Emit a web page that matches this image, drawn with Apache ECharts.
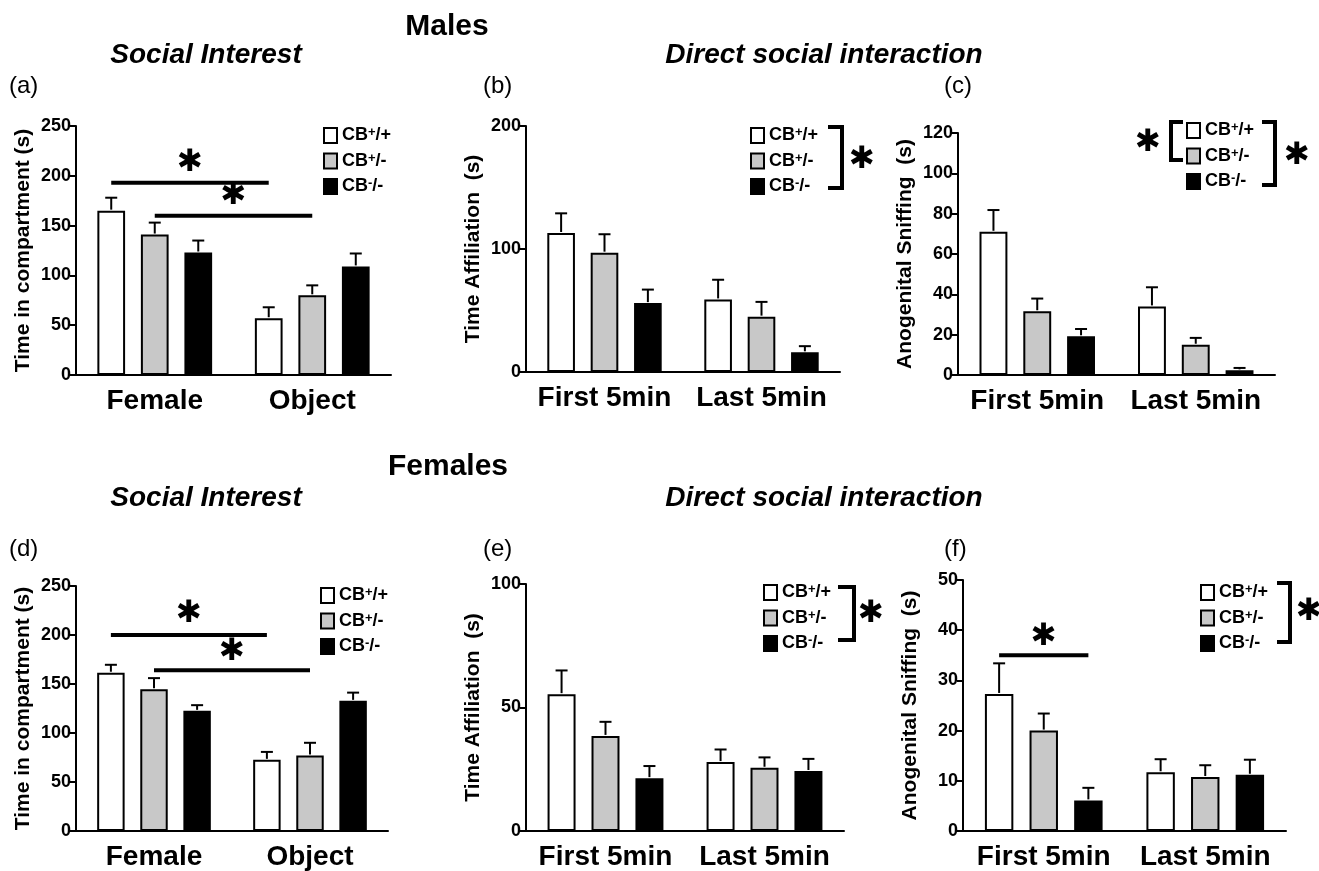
<!DOCTYPE html>
<html>
<head>
<meta charset="utf-8">
<script src="https://cdn.jsdelivr.net/npm/echarts@6/dist/echarts.min.js"></script>
<style>
html,body{margin:0;padding:0;background:#fff;}
#chart{width:1319px;height:871px;}
</style>
</head>
<body>
<div id="chart"></div>
<script>
// ---------- DATA ----------
const groups = ['CB+/+', 'CB+/-', 'CB-/-'];
const catsSocial = ['Female', 'Object'];
const catsTime = ['First 5min', 'Last 5min'];

// (a) Males – Social interest: time in compartment (s)
const aMean = [[165, 57], [141, 80], [123, 109]];
const aSem  = [[13, 11], [12, 10], [12, 13]];
// (b) Males – Time affiliation (s)
const bMean = [[113, 59], [97, 45], [56, 16]];
const bSem  = [[16, 16], [15, 12], [11, 5]];
// (c) Males – Anogenital sniffing (s)
const cMean = [[71, 34], [31.6, 15], [19.2, 2.3]];
const cSem  = [[10.8, 9.5], [6.3, 3.4], [3.6, 1.2]];
// (d) Females – Social interest: time in compartment (s)
const dMean = [[161.5, 72.6], [144.6, 77], [122.6, 132.8]];
const dSem  = [[8.1, 8.1], [11.4, 13], [5.8, 8.4]];
// (e) Females – Time affiliation (s)
const eMean = [[55.4, 27.9], [38.5, 25.6], [21.4, 24.3]];
const eSem  = [[9.6, 5.1], [5.7, 4.2], [4.9, 4.9]];
// (f) Females – Anogenital sniffing (s)
const fMean = [[27.3, 11.7], [20, 10.75], [6.1, 11.2]];
const fSem  = [[6.1, 2.6], [3.4, 2.35], [2.5, 3.0]];

// significance bars: [fromCat, fromGroupSlot, toCat, toGroupSlot, lineValue, starValue]
const aSig = [[0, -1, 1, -1, 193, 213], [0, 0, 1, 0, 160, 180]];
const dSig = [[0, -1, 1, -1, 200, 221], [0, 0, 1, 0, 164, 183]];
const fSig = [[0, -1, 0, 1, 35, 38.7]];

// axis ticks
const aTicks = {max: 250, interval: 50};
const bTicks = {max: 200, interval: 100};
const cTicks = {max: 120, interval: 20};
const dTicks = {max: 250, interval: 50};
const eTicks = {max: 100, interval: 50};
const fTicks = {max: 50, interval: 10};

// ---------- LAYOUT / STYLE ----------
const FONT = 'Liberation Sans, Arial, Helvetica, sans-serif';
const fills = ['#ffffff', '#c8c8c8', '#000000'];
const BARW = 0.176, GAP = 0.57;
const STEP = BARW * (1 + GAP);
const STARFONT = 'bold 31px DejaVu Sans';

const panels = [
  {cats: catsSocial, mean: aMean, sem: aSem, ticks: aTicks, yName: 'Time in compartment (s)', sig: aSig,
   grid: {left: 76, top: 126, width: 315, height: 249}, legend: {left: 323, top: 126}},
  {cats: catsTime, mean: bMean, sem: bSem, ticks: bTicks, yName: 'Time Affiliation  (s)', sig: [],
   grid: {left: 526, top: 126, width: 314, height: 246}, legend: {left: 750, top: 126}},
  {cats: catsTime, mean: cMean, sem: cSem, ticks: cTicks, yName: 'Anogenital Sniffing  (s)', sig: [],
   grid: {left: 958, top: 133, width: 317, height: 242}, legend: {left: 1186, top: 121}},
  {cats: catsSocial, mean: dMean, sem: dSem, ticks: dTicks, yName: 'Time in compartment (s)', sig: dSig,
   grid: {left: 76, top: 586, width: 312, height: 247}, legend: {left: 320, top: 586}},
  {cats: catsTime, mean: eMean, sem: eSem, ticks: eTicks, yName: 'Time Affiliation  (s)', sig: [],
   grid: {left: 526, top: 584, width: 318, height: 249}, legend: {left: 763, top: 583}},
  {cats: catsTime, mean: fMean, sem: fSem, ticks: fTicks, yName: 'Anogenital Sniffing  (s)', sig: fSig,
   grid: {left: 963, top: 580, width: 323, height: 253}, legend: {left: 1200, top: 583}}
];

const grids = [], xAxes = [], yAxes = [], series = [], legends = [];

function legendFmt(name) {
  const sup = name.charAt(2);
  const rest = name.slice(3);
  return '{m|CB}{s|' + sup + '}{m|' + rest + '}';
}

panels.forEach(function (p, i) {
  grids.push(Object.assign({containLabel: false}, p.grid));
  xAxes.push({
    type: 'category', gridIndex: i, data: p.cats,
    axisLine: {lineStyle: {color: '#000', width: 2}},
    axisTick: {alignWithLabel: true, length: 5, lineStyle: {color: '#000', width: 2}},
    axisLabel: {interval: 0, hideOverlap: false, color: '#000', fontFamily: FONT, fontWeight: 'bold', fontSize: 28, margin: 12}
  });
  yAxes.push({
    type: 'value', gridIndex: i, min: 0, max: p.ticks.max, interval: p.ticks.interval,
    axisLine: {show: true, lineStyle: {color: '#000', width: 2}},
    axisTick: {show: true, length: 6, lineStyle: {color: '#000', width: 2}},
    axisLabel: {color: '#000', fontFamily: FONT, fontWeight: 'bold', fontSize: 18, margin: 5},
    splitLine: {show: false},
    name: p.yName, nameLocation: 'middle', nameGap: 42,
    nameTextStyle: {color: '#000', fontFamily: FONT, fontWeight: 'bold', fontSize: 21}
  });
  groups.forEach(function (g, k) {
    series.push({
      type: 'bar', name: g, xAxisIndex: i, yAxisIndex: i,
      data: p.mean[k], barWidth: (BARW * 100) + '%', barGap: (GAP * 100) + '%',
      itemStyle: {color: fills[k], borderColor: '#000', borderWidth: 2},
      emphasis: {disabled: true}, z: 2
    });
  });
  groups.forEach(function (g, k) {
    const slot = k - 1;
    series.push({
      type: 'custom', xAxisIndex: i, yAxisIndex: i, z: 3,
      data: p.mean[k].map(function (m, c) { return [c, m, m + p.sem[k][c]]; }),
      encode: {x: 0, y: [1, 2]},
      renderItem: function (params, api) {
        const band = api.size([1, 0])[0];
        const b = api.coord([api.value(0), api.value(1)]);
        const t = api.coord([api.value(0), api.value(2)]);
        const x = b[0] + slot * band * STEP;
        const st = {stroke: '#000', lineWidth: 2};
        return {type: 'group', children: [
          {type: 'line', shape: {x1: x, y1: b[1] - 1, x2: x, y2: t[1]}, style: st},
          {type: 'line', shape: {x1: x - 6, y1: t[1], x2: x + 6, y2: t[1]}, style: st}
        ]};
      }
    });
  });
  if (p.sig.length) {
    series.push({
      type: 'custom', xAxisIndex: i, yAxisIndex: i, z: 4,
      data: p.sig, encode: {x: 0, y: 4},
      renderItem: function (params, api) {
        const band = api.size([1, 0])[0];
        const p0 = api.coord([api.value(0), api.value(4)]);
        const p1 = api.coord([api.value(2), api.value(4)]);
        const x0 = p0[0] + api.value(1) * band * STEP;
        const x1 = p1[0] + api.value(3) * band * STEP;
        const ys = api.coord([api.value(0), api.value(5)])[1];
        return {type: 'group', children: [
          {type: 'line', shape: {x1: x0, y1: p0[1], x2: x1, y2: p0[1]}, style: {stroke: '#000', lineWidth: 4}},
          {type: 'text', style: {text: '\u2731', x: (x0 + x1) / 2, y: ys, align: 'center', verticalAlign: 'middle',
            font: STARFONT, fill: '#000'}}
        ]};
      }
    });
  }
  legends.push({
    orient: 'vertical', left: p.legend.left, top: p.legend.top, data: groups, padding: 0,
    icon: 'rect', itemWidth: 13, itemHeight: 15, itemGap: 7, selectedMode: false,
    formatter: legendFmt,
    textStyle: {rich: {
      m: {fontFamily: FONT, fontWeight: 'bold', fontSize: 18, color: '#000', lineHeight: 19},
      s: {fontFamily: FONT, fontWeight: 'bold', fontSize: 13, color: '#000', lineHeight: 11, verticalAlign: 'top'}
    }}
  });
});

function txt(text, x, y, font, align) {
  return {type: 'text', x: x, y: y, silent: true,
    style: {text: text, font: font, fill: '#000', align: align || 'center', verticalAlign: 'middle'}};
}
function star(x, y) {
  return txt('\u2731', x, y, STARFONT);
}
function bracket(points) {
  return {type: 'polyline', silent: true, shape: {points: points},
    style: {stroke: '#000', lineWidth: 4, fill: null}};
}

const bigT = 'bold 30px ' + FONT;
const subT = 'italic bold 28px ' + FONT;
const lblT = '24px ' + FONT;

const graphics = [
  txt('Males', 447, 27, bigT),
  txt('Social Interest', 206, 55, subT),
  txt('Direct social interaction', 824, 55, subT),
  txt('(a)', 9, 86, lblT, 'left'),
  txt('(b)', 483, 86, lblT, 'left'),
  txt('(c)', 944, 86, lblT, 'left'),
  txt('Females', 448, 467, bigT),
  txt('Social Interest', 206, 498, subT),
  txt('Direct social interaction', 824, 498, subT),
  txt('(d)', 9, 549, lblT, 'left'),
  txt('(e)', 483, 549, lblT, 'left'),
  txt('(f)', 944, 549, lblT, 'left'),
  // (b)
  bracket([[828, 127], [842, 127], [842, 188], [828, 188]]),
  star(862, 160),
  // (c)
  bracket([[1183, 122], [1171, 122], [1171, 160], [1183, 160]]),
  star(1148, 143),
  bracket([[1262, 122], [1275, 122], [1275, 185], [1262, 185]]),
  star(1297, 156),
  // (e)
  bracket([[838, 587], [854, 587], [854, 640], [838, 640]]),
  star(871, 614),
  // (f)
  bracket([[1277, 583], [1290, 583], [1290, 642], [1277, 642]]),
  star(1309, 612)
];

const chart = echarts.init(document.getElementById('chart'), null, {renderer: 'canvas'});
chart.setOption({
  animation: false,
  backgroundColor: '#fff',
  textStyle: {fontFamily: FONT},
  grid: grids, xAxis: xAxes, yAxis: yAxes, series: series, legend: legends,
  graphic: graphics
});
</script>
</body>
</html>
